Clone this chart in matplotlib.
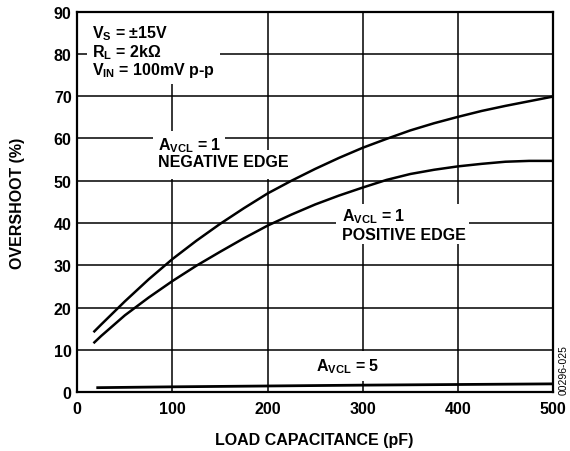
import matplotlib
matplotlib.use('Agg')
import matplotlib.pyplot as plt
from matplotlib.patches import Rectangle

plt.rcParams['font.family'] = ['Liberation Sans', 'DejaVu Sans']
plt.rcParams['font.weight'] = 'bold'
plt.rcParams['mathtext.fontset'] = 'custom'
plt.rcParams['mathtext.rm'] = 'Liberation Sans:bold'
plt.rcParams['mathtext.bf'] = 'Liberation Sans:bold'
plt.rcParams['mathtext.it'] = 'Liberation Sans:bold'

# load capacitance (pF) and overshoot (%)
cap_neg = [17, 25, 50, 75, 100, 125, 150, 175, 200, 225, 250, 275, 300, 325, 350, 375, 400, 425, 450, 475, 500]
over_neg = [14.2, 16.0, 21.5, 26.7, 31.5, 35.8, 39.8, 43.5, 47.0, 50.0, 52.8, 55.4, 57.8, 59.9, 61.9, 63.6, 65.1, 66.5, 67.7, 68.8, 69.9]
cap_pos = [17, 25, 50, 75, 100, 125, 150, 175, 200, 225, 250, 275, 300, 325, 350, 375, 400, 425, 450, 475, 500]
over_pos = [11.6, 13.3, 18.2, 22.4, 26.3, 29.9, 33.2, 36.4, 39.4, 42.0, 44.4, 46.5, 48.4, 50.2, 51.6, 52.6, 53.4, 54.0, 54.5, 54.7, 54.7]
cap_g5 = [20, 100, 200, 300, 400, 500]
over_g5 = [1.1, 1.3, 1.5, 1.7, 1.85, 2.0]

xticks = [0, 100, 200, 300, 400, 500]
yticks = [0, 10, 20, 30, 40, 50, 60, 70, 80, 90]

FS = 11.5

fig = plt.figure(figsize=(5.7, 4.52), dpi=100)
ax = fig.add_axes([0.1356, 0.1298, 0.8346, 0.8425])

ax.plot(cap_neg, over_neg, color='black', lw=1.8, zorder=3, solid_capstyle='butt')
ax.plot(cap_pos, over_pos, color='black', lw=1.8, zorder=3, solid_capstyle='butt')
ax.plot(cap_g5, over_g5, color='black', lw=2.0, zorder=3, solid_capstyle='butt')

ax.set_xlim(0, 500)
ax.set_ylim(0, 90)
ax.set_xticks(xticks)
ax.set_yticks(yticks)
ax.tick_params(length=0, labelsize=FS)
ax.tick_params(axis='x', pad=6)
ax.tick_params(axis='y', pad=4)
ax.grid(True, color='black', lw=1.1)
ax.set_axisbelow(True)
for s in ax.spines.values():
    s.set_linewidth(1.6)
    s.set_zorder(5)

fig.text(0.5518, 0.0155, 'LOAD CAPACITANCE (pF)', fontsize=FS, fontweight='bold',
         ha='center', va='baseline')
fig.text(0.030, 0.551, 'OVERSHOOT (%)', fontsize=FS, fontweight='bold',
         rotation=90, ha='center', va='center')

# white backgrounds behind the labels (break the grid like the original)
for (x0, y0, w, h) in [(10.2, 72.9, 139.6, 17.1),
                       (79.5, 57.3, 75.5, 4.5),
                       (79.5, 50.4, 146.9, 6.9),
                       (272.3, 35.1, 139.9, 9.5),
                       (244.0, 2.7, 84.0, 7.1)]:
    ax.add_patch(Rectangle((x0, y0), w, h, facecolor='white', edgecolor='none', zorder=1))

tkw = dict(fontsize=FS, fontweight='bold', ha='left', va='baseline', zorder=4)
ax.text(15.4, 84.0, '$\\mathbf{V_S}$ = ±15V', **tkw)
ax.text(15.4, 79.5, '$\\mathbf{R_L}$ = 2kΩ', **tkw)
ax.text(15.4, 75.2, '$\\mathbf{V_{IN}}$ = 100mV p-p', **tkw)
ax.text(84.4, 57.5, '$\\mathbf{A_{VCL}}$ = 1', **tkw)
ax.text(84.4, 53.6, 'NEGATIVE EDGE', **tkw)
ax.text(278.6, 40.6, '$\\mathbf{A_{VCL}}$ = 1', **tkw)
ax.text(278.6, 36.3, 'POSITIVE EDGE', **tkw)
ax.text(251.3, 5.1, '$\\mathbf{A_{VCL}}$ = 5', **tkw)

fig.text(0.9886, 0.181, '00296-025', rotation=90, fontsize=7.5, fontweight='normal',
         ha='center', va='center')

fig.savefig('out.png', dpi=100)
